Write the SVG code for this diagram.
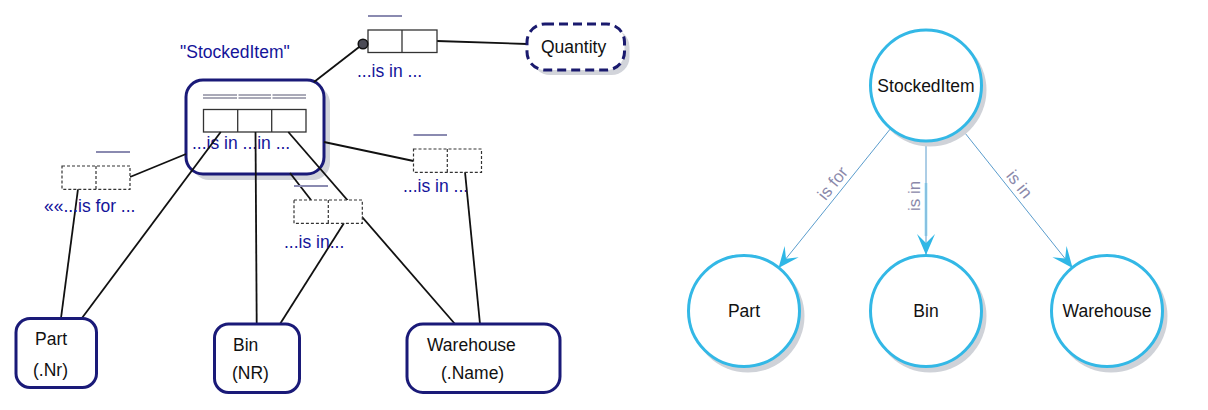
<svg xmlns="http://www.w3.org/2000/svg" width="1208" height="410" viewBox="0 0 1208 410">
<defs>
<style>
text{font-family:"Liberation Sans",Arial,sans-serif;font-size:17.5px}
.lbl{fill:#14149a}
.ent{fill:#111}
.ebox{fill:#fff;stroke:#1a1a78;stroke-width:3}
.shadow{fill:#d2d4da}
.cn{stroke:#111;stroke-width:1.8;fill:none}
.role{fill:#fff;stroke:#333;stroke-width:1.3}
.drole{fill:#fff;stroke:#333;stroke-width:1.2;stroke-dasharray:3 2}
.bar{stroke:#8a8ab0;stroke-width:2}
.circ{fill:#fff;stroke:#33b8e6;stroke-width:3}
.csh{fill:#cfd2d8}
.rl{stroke:#5a9ccc;stroke-width:1;fill:none}
.rlbl{fill:#8a88aa;font-size:17px;text-anchor:middle}
.ctext{fill:#111;text-anchor:middle}
</style>
<marker id="arr" viewBox="0 0 22 20" markerWidth="22" markerHeight="20" refX="21" refY="10" orient="auto" markerUnits="userSpaceOnUse">
<path d="M0,1 L21,10 L0,19 L9,10 Z" fill="#2fb7e6"/>
</marker>
</defs>
<rect width="1208" height="410" fill="#fff"/>

<!-- StockedItem objectified fact type -->
<g id="stockeditem">
<text x="180" y="58" class="lbl">"StockedItem"</text>
<rect x="192" y="86" width="138" height="94" rx="17" class="shadow"/>
<rect x="186" y="80" width="138" height="94" rx="17" class="ebox"/>
<g stroke="#555570" stroke-width="1">
<line x1="203" y1="95" x2="237" y2="95"/><line x1="238.5" y1="95" x2="271" y2="95"/><line x1="272.5" y1="95" x2="306" y2="95"/>
<line x1="203" y1="98" x2="237" y2="98"/><line x1="238.5" y1="98" x2="271" y2="98"/><line x1="272.5" y1="98" x2="306" y2="98"/>
</g>
<rect x="203.5" y="109.5" width="102.5" height="22.5" class="role"/>
<line x1="237.7" y1="109.5" x2="237.7" y2="132" stroke="#333" stroke-width="1.3"/>
<line x1="271.7" y1="109.5" x2="271.7" y2="132" stroke="#333" stroke-width="1.3"/>
<text x="192" y="149" class="lbl">...is in ...in ...</text>
</g>

<!-- connectors -->
<g id="connectors">
<line x1="363" y1="44" x2="314" y2="82" class="cn"/>
<line x1="437" y1="41" x2="527" y2="44" class="cn"/>
<line x1="130" y1="177" x2="186" y2="154" class="cn"/>
<line x1="78" y1="189" x2="61" y2="318" class="cn"/>
<line x1="220.7" y1="132" x2="82" y2="318" class="cn"/>
<line x1="255.5" y1="132" x2="256.7" y2="324" class="cn"/>
<line x1="288.3" y1="132" x2="455" y2="324" class="cn"/>
<line x1="290" y1="173" x2="311" y2="200" class="cn"/>
<line x1="344" y1="223" x2="280" y2="324" class="cn"/>
<line x1="324" y1="142" x2="413.5" y2="161" class="cn"/>
<line x1="465" y1="172" x2="480" y2="324" class="cn"/>
</g>

<!-- role boxes -->
<g id="role-quantity">
<line x1="368" y1="16" x2="402" y2="16" class="bar"/>
<rect x="368" y="30" width="69" height="22.5" class="role"/>
<line x1="402" y1="30" x2="402" y2="52.5" stroke="#333" stroke-width="1.3"/>
<circle cx="363" cy="44" r="4.8" fill="#4a4a55" stroke="#111" stroke-width="1.5"/>
<text x="357" y="77" class="lbl">...is in ...</text>
</g>
<g id="role-part">
<line x1="96" y1="152" x2="130" y2="152" class="bar"/>
<rect x="62" y="166" width="68" height="23.3" class="drole"/>
<line x1="96" y1="166" x2="96" y2="189.3" stroke="#333" stroke-width="1.2" stroke-dasharray="3 2"/>
<text x="44" y="212" class="lbl">««...is for ...</text>
</g>
<g id="role-bin">
<line x1="294" y1="186" x2="328" y2="186" class="bar"/>
<rect x="294" y="200" width="68.3" height="23.3" class="drole"/>
<line x1="328.3" y1="200" x2="328.3" y2="223.3" stroke="#333" stroke-width="1.2" stroke-dasharray="3 2"/>
<text x="284" y="248" class="lbl">...is in...</text>
</g>
<g id="role-warehouse">
<line x1="413.5" y1="135" x2="447" y2="135" class="bar"/>
<rect x="413.5" y="149" width="68" height="23.3" class="drole"/>
<line x1="447.3" y1="149" x2="447.3" y2="172.3" stroke="#333" stroke-width="1.2" stroke-dasharray="3 2"/>
<text x="403" y="192" class="lbl">...is in ...</text>
</g>

<!-- value type -->
<g id="quantity">
<rect x="532" y="29" width="97.5" height="46" rx="18" class="shadow"/>
<rect x="527" y="24" width="97.5" height="46" rx="18" fill="#fff" stroke="#1a1a6e" stroke-width="3" stroke-dasharray="9 5"/>
<text x="541" y="53" class="ent">Quantity</text>
</g>

<!-- entity types -->
<g id="part">
<rect x="16" y="318.5" width="80.5" height="69" rx="14" class="ebox"/>
<text x="35" y="345" class="ent">Part</text>
<text x="33" y="376" class="ent">(.Nr)</text>
</g>
<g id="bin">
<rect x="214.5" y="324" width="85" height="68.5" rx="14" class="ebox"/>
<text x="233" y="351" class="ent">Bin</text>
<text x="232" y="379" class="ent">(NR)</text>
</g>
<g id="warehouse">
<rect x="407" y="324" width="153" height="68.5" rx="16" class="ebox"/>
<text x="427" y="351" class="ent">Warehouse</text>
<text x="441" y="379" class="ent">(.Name)</text>
</g>

<!-- right-hand graph -->
<g id="graph-connectors">
<line x1="926" y1="183" x2="926" y2="236" stroke="#b3e6f7" stroke-width="3"/>
<line x1="891" y1="128" x2="778.5" y2="268" class="rl" marker-end="url(#arr)"/>
<line x1="926" y1="141" x2="926" y2="255" class="rl" marker-end="url(#arr)"/>
<line x1="961" y1="128" x2="1072.6" y2="268" class="rl" marker-end="url(#arr)"/>
<text class="rlbl" transform="translate(841,190) rotate(-51)" y="-5">is for</text>
<text class="rlbl" transform="translate(926,196) rotate(-90)" y="-6">is in</text>
<text class="rlbl" transform="translate(1011,191) rotate(51)" y="-5">is in</text>
</g>
<g id="g-stockeditem">
<circle cx="930" cy="90" r="56.5" class="csh"/>
<circle cx="926" cy="85.5" r="55.5" class="circ"/>
<text x="926" y="92" class="ctext">StockedItem</text>
</g>
<g id="g-part">
<circle cx="748" cy="316" r="56.5" class="csh"/>
<circle cx="744" cy="311" r="55.5" class="circ"/>
<text x="744" y="317" class="ctext">Part</text>
</g>
<g id="g-bin">
<circle cx="930" cy="316" r="56.5" class="csh"/>
<circle cx="926" cy="311" r="55.5" class="circ"/>
<text x="926" y="317" class="ctext">Bin</text>
</g>
<g id="g-warehouse">
<circle cx="1111" cy="316" r="56.5" class="csh"/>
<circle cx="1107" cy="311" r="55.5" class="circ"/>
<text x="1107" y="317" class="ctext">Warehouse</text>
</g>
</svg>
